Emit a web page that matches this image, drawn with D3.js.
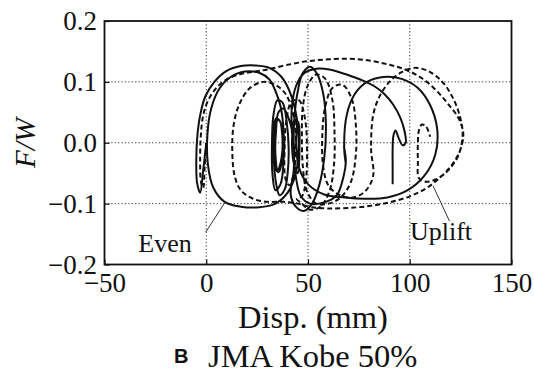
<!DOCTYPE html>
<html>
<head>
<meta charset="utf-8">
<script src="https://cdn.jsdelivr.net/npm/d3@7"></script>
<style>
  html, body { margin: 0; padding: 0; background: #fff; }
  svg { display: block; }
</style>
</head>
<body>
<svg id="chart" width="534" height="375"></svg>
<script>
// ---- data ----
const xTicks = [-50, 0, 50, 100, 150];
const xTickLabels = ["\u221250", "0", "50", "100", "150"];
const yTicks = [-0.2, -0.1, 0.0, 0.1, 0.2];
const yTickLabels = ["\u22120.2", "\u22120.1", "0.0", "0.1", "0.2"];
const xGrid = [0, 50, 100];
const yGrid = [-0.1, 0.0, 0.1];

// "Even" trace: [Disp (mm), F/W]
const evenTrace = [
  [0,0],[-1.5,-0.045],[-3,-0.082],[-4.5,-0.066],[-4.9,-0.03],[-4.4,0.01],[-3,0.045],[-0.5,0.076],
  [4,0.1],[10,0.118],[17,0.126],[24,0.127],[31,0.123],[37,0.108],[41.5,0.08],[44.5,0.04],
  [45.5,-0.005],[44,-0.05],[40,-0.082],[34,-0.1],[26,-0.106],[17,-0.105],[9,-0.097],[3.5,-0.074],
  [0.8,-0.035],[0.6,0.015],[2.5,0.057],[6.5,0.089],[12,0.108],[19,0.117],[26,0.115],[31,0.104],
  [34,0.085],[36.5,0.06],[38,0.02],[38,-0.03],[36.5,-0.068],[34,-0.078],[32.5,-0.05],[32.3,0.0],
  [33,0.045],[35,0.07],[37.5,0.066],[39.5,0.035],[40.5,-0.01],[40,-0.05],[38.5,-0.077],[36,-0.086],
  [34.5,-0.07],[33.2,-0.03],[33,0.02],[34.3,0.04],[36.3,0.035],[37.4,0.01],[37.2,-0.03],[35.6,-0.048],
  [33.8,-0.04],[33.3,-0.005],[34,0.03],[35.8,0.038],[37.3,0.015],[37,-0.025],[35.2,-0.045],[34,-0.02],
  [34.3,0.02],[35.5,0.05],[38,0.056],[41,0.035],[43,0.0],[43,-0.045],
  [41.5,-0.085],[44,-0.105],[48,-0.112],[52,-0.1],[55.5,-0.07],[58,-0.025],[58.8,0.03],[57.5,0.08],
  [54.5,0.113],[51,0.125],[47.5,0.115],[45,0.085],[43.3,0.04],[43,-0.01],[44,-0.055],[46.5,-0.088],
  [51,-0.1],[58,-0.098],[64,-0.087],[67.5,-0.055],[68.6,-0.03],[67.6,-0.005],[68.6,-0.035],[67.8,-0.01],
  [69,0.045],[73,0.08],[79,0.1],
  [87,0.108],[96,0.105],[104,0.09],[110,0.062],[113.5,0.022],[112.5,-0.02],[107,-0.055],[99,-0.078],
  [89,-0.09],[78,-0.092],[68,-0.09],[58,-0.085],[50,-0.068],[45.5,-0.04],[44.2,0.0],[44.5,0.04],
  [42.5,0.02],[42.8,-0.03],[45,-0.05],[45.8,-0.01],[45,0.035],[43,0.035],[42.3,0.01],[42,0.055],
  [44,0.092],[48,0.114],[55,0.122],[61,0.12],[69,0.112],[77,0.102],[83,0.092],[87.5,0.08],
  [92,0.062],[95.5,0.04],[97.5,0.018],[98,0.0],[96.5,-0.004],[94.5,0.008],[93,0.02],[92,0.012],
  [91.6,-0.01],[91.6,-0.04],[91.6,-0.068]
];

// "Uplift" trace: [Disp (mm), F/W]
const upliftTrace = [
  [0,0],[-0.8,-0.04],[-1.5,-0.074],[-2.6,-0.064],[-3,-0.03],[-2.7,0.01],[-1.5,0.045],[1,0.07],
  [5,0.09],[10,0.104],[17,0.113],[24,0.117],[31,0.121],[40,0.128],[50,0.134],[60,0.137],
  [70,0.138],[80,0.135],[90,0.128],[98,0.12],[106,0.106],[113,0.086],[119,0.063],[124,0.04],
  [126.3,0.015],[125,-0.01],[121,-0.035],[115,-0.057],[108,-0.075],[100,-0.088],[90,-0.098],[80,-0.104],
  [70,-0.107],[60,-0.108],[52,-0.106],[45,-0.1],[38,-0.097],[30,-0.097],[23,-0.092],[17,-0.078],
  [14,-0.055],[12.8,-0.015],[13.5,0.03],[16.5,0.065],[21.5,0.09],[28,0.1],[34,0.095],[39,0.08],
  [42.5,0.05],[44,0.01],[43.5,-0.04],[41,-0.07],[39,-0.06],[38.5,-0.01],[39.5,0.04],[42,0.068],
  [45.5,0.07],[48.5,0.04],[49.5,-0.01],[49,-0.06],[47,-0.088],[44.5,-0.092],[47,-0.1],[51,-0.11],
  [56,-0.105],[60.5,-0.08],[62.8,-0.035],[63,0.02],[62,0.07],[58.5,0.105],[54,0.112],[50,0.095],
  [47.5,0.06],[47,0.01],[47.5,-0.04],[49.5,-0.08],[54,-0.1],[60,-0.1],[66,-0.09],[71,-0.065],
  [73.5,-0.02],[73.5,0.03],[71.5,0.072],[67,0.095],[62,0.09],[58.5,0.06],[57,0.01],[57.5,-0.04],
  [60,-0.07],[65,-0.085],[72,-0.09],[78,-0.08],[82,-0.055],[81,-0.01],[82,0.045],[85,0.075],
  [90,0.1],[96,0.116],[102,0.123],[109,0.118],[116,0.1],[121,0.075],[124.5,0.045],[126,0.015],
  [124,-0.02],[119,-0.045],[113,-0.06],[108,-0.064],[104.5,-0.058],[104,-0.03],[104,0.0],[104.5,0.02],
  [106,0.03],[108,0.027],[110,0.01]
];

const xTitle = "Disp. (mm)";
const yTitle = "F/W";
const panelLetter = "B";
const panelTitle = "JMA Kobe 50%";
const labelEven = "Even";
const labelUplift = "Uplift";

// ---- drawing ----
const SERIF = '"Liberation Serif", "Times New Roman", "DejaVu Serif", serif';
const SANS = '"Liberation Sans", Arial, "DejaVu Sans", sans-serif';
const svg = d3.select("#chart");
const L = 104.5, R = 511.5, T = 21, B = 264.5;
const x = d3.scaleLinear().domain([-50, 150]).range([L, R]);
const y = d3.scaleLinear().domain([-0.2, 0.2]).range([B, T]);

// grid
const grid = svg.append("g").attr("stroke", "#333").attr("stroke-width", 1).attr("stroke-dasharray", "1.2,2.2");
grid.selectAll("line.gx").data(xGrid).join("line").attr("class", "gx")
  .attr("x1", d => x(d)).attr("x2", d => x(d)).attr("y1", T).attr("y2", B);
grid.selectAll("line.gy").data(yGrid).join("line").attr("class", "gy")
  .attr("x1", L).attr("x2", R).attr("y1", d => y(d)).attr("y2", d => y(d));

// traces
const line = d3.line().x(d => x(d[0])).y(d => y(d[1])).curve(d3.curveCatmullRom.alpha(0.5));
svg.append("path").datum(upliftTrace).attr("d", line)
  .attr("fill", "none").attr("stroke", "#111").attr("stroke-width", 2)
  .attr("stroke-dasharray", "5,3").attr("stroke-linejoin", "round");
svg.append("path").datum(evenTrace).attr("d", line)
  .attr("fill", "none").attr("stroke", "#111").attr("stroke-width", 2)
  .attr("stroke-linejoin", "round");

// axes
const xAxis = d3.axisBottom(x).tickValues(xTicks).tickSize(-5).tickPadding(8)
  .tickFormat((d, i) => xTickLabels[i]);
const yAxis = d3.axisLeft(y).tickValues(yTicks).tickSize(-5).tickPadding(7.5)
  .tickFormat((d, i) => yTickLabels[i]);
const gx = svg.append("g").attr("transform", `translate(0,${B})`).call(xAxis);
const gy = svg.append("g").attr("transform", `translate(${L},0)`).call(yAxis);
[gx, gy].forEach(g => {
  g.select(".domain").remove();
  g.selectAll(".tick line").attr("stroke", "#111").attr("stroke-width", 1.2);
  g.selectAll(".tick text").style("font-size", "27px").style("font-family", SERIF).attr("fill", "#111");
});

// frame
svg.append("rect").attr("x", L).attr("y", T).attr("width", R - L).attr("height", B - T)
  .attr("fill", "none").attr("stroke", "#111").attr("stroke-width", 1.8);

// annotations
svg.append("line").attr("x1", x(-0.2)).attr("y1", 232).attr("x2", x(9)).attr("y2", 203)
  .attr("stroke", "#333").attr("stroke-width", 1);
svg.append("text").attr("x", 165).attr("y", 252).attr("text-anchor", "middle")
  .style("font-family", SERIF).style("font-size", "26px").attr("fill", "#111").text(labelEven);
svg.append("line").attr("x1", x(111.5)).attr("y1", 186).attr("x2", x(119.5)).attr("y2", 221)
  .attr("stroke", "#333").attr("stroke-width", 1);
svg.append("text").attr("x", 441).attr("y", 240).attr("text-anchor", "middle")
  .style("font-family", SERIF).style("font-size", "26px").attr("fill", "#111").text(labelUplift);

// axis titles
svg.append("text").attr("x", 313).attr("y", 328).attr("text-anchor", "middle")
  .style("font-family", SERIF).style("font-size", "32.5px").attr("fill", "#111").text(xTitle);
svg.append("text").attr("transform", "translate(35,143) rotate(-90)").attr("text-anchor", "middle")
  .style("font-family", SERIF).style("font-size", "29px").style("font-style", "italic")
  .attr("fill", "#111").text(yTitle);

// panel caption
svg.append("text").attr("x", 174).attr("y", 363)
  .style("font-family", SANS).style("font-size", "20px").style("font-weight", "bold")
  .attr("fill", "#111").text(panelLetter);
svg.append("text").attr("x", 208).attr("y", 367)
  .style("font-family", SERIF).style("font-size", "32.5px").attr("fill", "#111").text(panelTitle);
</script>
</body>
</html>
